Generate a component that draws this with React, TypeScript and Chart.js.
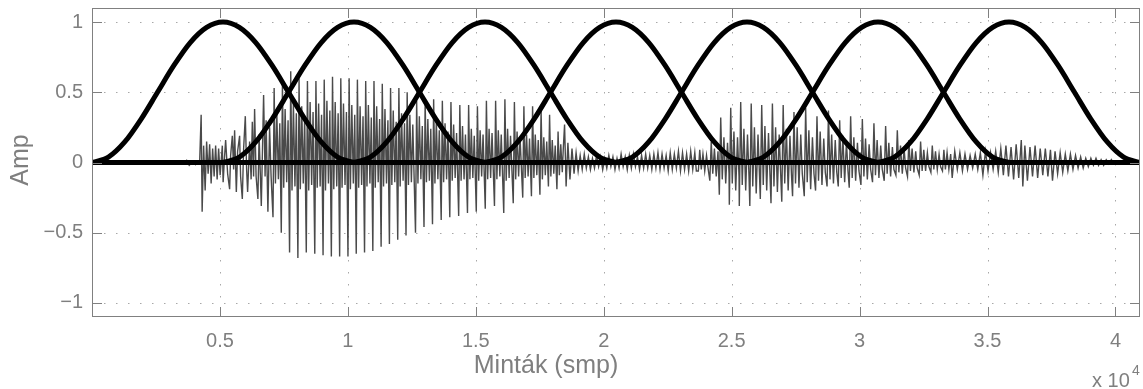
import React, { useEffect, useRef } from "react";
import { Chart, registerables } from "chart.js";

Chart.register(...registerables);

// ---- axes ----
const xMax = 40960;
const yMin = -1.1;
const yMax = 1.1;
const xTickValues = [5000, 10000, 15000, 20000, 25000, 30000, 35000, 40000];
const xTickLabels = ["0.5", "1", "1.5", "2", "2.5", "3", "3.5", "4"];
const yTickValues = [-1, -0.5, 0, 0.5, 1];
const yTickLabels = ["\u22121", "\u22120.5", "0", "0.5", "1"];
const xAxisTitle = "Mint\u00e1k (smp)";
const yAxisTitle = "Amp";
const xExponentBase = "x 10";
const xExponent = "4";

// ---- Hann windows ----
const windowCenters = [5120, 10240, 15360, 20480, 25600, 30720, 35840];
const windowHalfWidth = 5120;
const hannShape = [0, 0.038, 0.146, 0.309, 0.5, 0.691, 0.854, 0.962, 1, 0.962, 0.854, 0.691, 0.5, 0.309, 0.146, 0.038, 0];
const zeroLine: [number, number][] = [[0, 0], [40960, 0]];

// ---- speech signal (sample, amplitude) ----
const preOnset: [number, number][] = [
  [0, 0], [800, 0.003], [1600, -0.003], [2200, 0.004], [2700, -0.004], [3000, 0.01], [3200, -0.008],
  [3400, 0.012], [3500, -0.01], [3700, 0.015], [3800, -0.02], [3950, 0.01], [4050, -0.015], [4150, 0.01],
];

const onset: [number, number][] = [
  [4207, 0], [4266, 0.34], [4305, -0.35], [4363, 0.12], [4422, -0.2], [4480, 0.15], [4539, -0.08],
  [4598, 0.13], [4656, -0.15], [4715, 0.1], [4773, -0.1], [4832, 0.12], [4891, -0.12], [4949, 0.1],
  [5008, -0.09], [5094, 0.12], [5125, -0.14], [5184, 0.05], [5223, 0.16], [5301, -0.08], [5379, -0.19],
  [5418, 0.05], [5484, 0.19], [5535, -0.05], [5574, 0.23], [5641, -0.21], [5691, 0.08], [5769, 0.19],
  [5808, -0.1], [5875, -0.26], [5926, 0.1], [5992, 0.33], [6043, -0.05], [6082, -0.21], [6160, 0.15],
  [6219, -0.12], [6266, 0.29], [6316, -0.1], [6355, 0.38], [6414, -0.1], [6484, -0.26], [6531, 0.2],
  [6617, -0.31], [6707, 0.48], [6765, -0.1], [6805, 0.3], [6875, -0.35], [6941, 0.25], [7000, -0.1],
];

const voicedA: [number, number][] = [
  [7074, -0.39], [7119, 0.53], [7169, -0.15], [7224, 0.35], [7284, -0.12], [7339, 0.28],
  [7398, -0.5], [7443, 0.57], [7493, -0.18], [7548, 0.38], [7608, -0.14], [7663, 0.3],
  [7722, -0.64], [7767, 0.65], [7817, -0.2], [7872, 0.42], [7932, -0.17], [7987, 0.35],
  [8047, -0.68], [8092, 0.6], [8142, -0.19], [8197, 0.4], [8257, -0.15], [8312, 0.33],
  [8375, -0.64], [8420, 0.58], [8470, -0.2], [8525, 0.43], [8585, -0.16], [8640, 0.36],
  [8707, -0.65], [8752, 0.58], [8802, -0.18], [8857, 0.42], [8917, -0.17], [8972, 0.34],
  [9031, -0.66], [9076, 0.59], [9126, -0.2], [9181, 0.44], [9241, -0.15], [9296, 0.37],
  [9355, -0.67], [9400, 0.61], [9450, -0.19], [9505, 0.43], [9565, -0.17], [9620, 0.35],
  [9679, -0.67], [9724, 0.6], [9774, -0.18], [9829, 0.42], [9889, -0.16], [9944, 0.36],
  [10004, -0.67], [10049, 0.6], [10099, -0.19], [10154, 0.41], [10214, -0.15], [10269, 0.34],
  [10328, -0.65], [10373, 0.59], [10423, -0.18], [10478, 0.4], [10538, -0.16], [10593, 0.33],
  [10652, -0.64], [10697, 0.58], [10747, -0.17], [10802, 0.41], [10862, -0.15], [10917, 0.32],
  [10976, -0.63], [11021, 0.58], [11071, -0.18], [11126, 0.4], [11186, -0.14], [11241, 0.31],
  [11300, -0.6], [11345, 0.56], [11395, -0.17], [11450, 0.38], [11510, -0.15], [11565, 0.3],
  [11624, -0.58], [11669, 0.53], [11719, -0.16], [11774, 0.37], [11834, -0.14], [11889, 0.29],
  [11949, -0.55], [11994, 0.53], [12044, -0.17], [12099, 0.35], [12159, -0.13], [12214, 0.28],
  [12273, -0.52], [12318, 0.5], [12368, -0.16], [12423, 0.34], [12483, -0.14], [12538, 0.27],
  [12644, -0.5], [12689, 0.44], [12739, -0.15], [12794, 0.33], [12854, -0.12], [12909, 0.26],
  [12976, -0.46], [13021, 0.45], [13071, -0.14], [13126, 0.31], [13186, -0.13], [13241, 0.24],
  [13308, -0.44], [13353, 0.45], [13403, -0.15], [13458, 0.3], [13518, -0.12], [13573, 0.23],
  [13648, -0.41], [13693, 0.44], [13743, -0.14], [13798, 0.28], [13858, -0.12], [13913, 0.22],
  [13984, -0.39], [14029, 0.43], [14079, -0.13], [14134, 0.27], [14194, -0.11], [14249, 0.21],
  [14331, -0.38], [14376, 0.41], [14426, -0.13], [14481, 0.26], [14541, -0.12], [14596, 0.2],
  [14675, -0.36], [14720, 0.41], [14770, -0.12], [14825, 0.24], [14885, -0.11], [14940, 0.19],
  [15019, -0.35], [15064, 0.4], [15114, -0.13], [15169, 0.23], [15229, -0.1], [15284, 0.2],
  [15370, -0.33], [15415, 0.44], [15465, -0.12], [15520, 0.24], [15580, -0.11], [15635, 0.21],
  [15730, -0.31], [15775, 0.44], [15825, -0.12], [15880, 0.23], [15940, -0.1], [15995, 0.2],
  [16093, -0.36], [16138, 0.45], [16188, -0.13], [16243, 0.24], [16303, -0.11], [16358, 0.19],
  [16464, -0.29], [16509, 0.43], [16559, -0.12], [16614, 0.22], [16674, -0.1], [16729, 0.18],
  [16835, -0.25], [16880, 0.4], [16930, -0.11], [16985, 0.2], [17045, -0.1], [17100, 0.17],
  [17175, -0.24], [17220, 0.4], [17270, -0.11], [17325, 0.2], [17385, -0.09], [17440, 0.16],
  [17507, -0.23], [17552, 0.38], [17602, -0.12], [17657, 0.18], [17717, -0.09], [17772, 0.15],
  [17839, -0.17], [17884, 0.34], [17934, -0.1], [17989, 0.16], [18049, -0.08], [18104, 0.12],
  [18171, -0.19], [18216, 0.22], [18266, -0.09], [18321, 0.13], [18381, -0.07], [18420, 0.1],
  [18470, 0.27], [18530, -0.17],
];

const pause: [number, number][] = [
  [18600, 0.14], [18680, -0.12], [18760, 0.1], [18840, -0.08], [18920, 0.07], [19000, -0.06],
  [19080, 0.05], [19160, -0.05], [19240, 0.06], [19320, -0.04], [19400, 0.04], [19480, -0.05],
  [19560, 0.03], [19640, -0.04], [19720, 0.05], [19800, -0.03], [19880, 0.04], [19960, -0.05],
  [20040, 0.03], [20120, -0.04], [20200, 0.05], [20280, -0.03], [20360, 0.04], [20440, -0.05],
  [20520, 0.03], [20600, -0.04], [20680, 0.06], [20760, -0.03], [20840, 0.04], [20920, -0.05],
  [21000, 0.05], [21080, -0.04], [21160, 0.06], [21240, -0.03], [21320, 0.04], [21400, -0.05],
  [21480, 0.05], [21560, -0.04], [21640, 0.06], [21720, -0.04], [21800, 0.05], [21880, -0.05],
  [21960, 0.06], [22040, -0.04], [22120, 0.07], [22200, -0.05], [22280, 0.06], [22360, -0.04],
  [22440, 0.05], [22520, -0.06], [22600, 0.07], [22680, -0.05], [22760, 0.06], [22840, -0.04],
  [22920, 0.08], [23000, -0.06], [23080, 0.07], [23160, -0.05], [23240, 0.06], [23320, -0.06],
  [23400, 0.08], [23480, -0.05], [23560, 0.07], [23620, -0.06],
];

const voicedB: [number, number][] = [
  [23698, -0.06], [23753, 0.09], [23813, -0.05], [23878, 0.06], [23948, -0.06], [24018, 0.05], [24078, -0.04],
  [24147, -0.13], [24202, 0.15], [24262, -0.08], [24327, 0.1], [24397, -0.1], [24467, 0.08],
  [24518, -0.23], [24573, 0.32], [24633, -0.12], [24698, 0.18], [24768, -0.15], [24838, 0.14], [24898, -0.08],
  [24909, -0.3], [24964, 0.39], [25024, -0.15], [25089, 0.22], [25159, -0.2], [25229, 0.18], [25289, -0.1],
  [25299, -0.31], [25354, 0.43], [25414, -0.16], [25479, 0.24], [25549, -0.2], [25619, 0.2], [25679, -0.1],
  [25710, -0.31], [25765, 0.42], [25825, -0.17], [25890, 0.25], [25960, -0.22], [26030, 0.2], [26090, -0.1],
  [26120, -0.26], [26175, 0.41], [26235, -0.16], [26300, 0.26], [26370, -0.2], [26440, 0.21], [26500, -0.1],
  [26538, -0.29], [26593, 0.42], [26653, -0.17], [26718, 0.25], [26788, -0.21], [26858, 0.2], [26918, -0.09],
  [26959, -0.28], [27014, 0.41], [27074, -0.15], [27139, 0.24], [27209, -0.2], [27279, 0.19], [27339, -0.09],
  [27381, -0.24], [27436, 0.36], [27496, -0.15], [27561, 0.25], [27631, -0.18], [27701, 0.2], [27761, -0.08],
  [27838, -0.24], [27893, 0.39], [27953, -0.14], [28018, 0.23], [28088, -0.19], [28158, 0.18], [28218, -0.08],
  [28280, -0.2], [28335, 0.33], [28395, -0.13], [28460, 0.22], [28530, -0.16], [28600, 0.17], [28660, -0.07],
  [28729, -0.17], [28784, 0.37], [28844, -0.12], [28909, 0.2], [28979, -0.15], [29049, 0.16], [29109, -0.07],
  [29167, -0.17], [29222, 0.3], [29282, -0.11], [29347, 0.19], [29417, -0.14], [29487, 0.15], [29547, -0.06],
  [29596, -0.18], [29651, 0.33], [29711, -0.11], [29776, 0.18], [29846, -0.13], [29916, 0.14], [29976, -0.06],
  [30053, -0.16], [30108, 0.31], [30168, -0.1], [30233, 0.17], [30303, -0.12], [30373, 0.13], [30433, -0.05],
  [30506, -0.14], [30561, 0.28], [30621, -0.09], [30686, 0.16], [30756, -0.11], [30826, 0.12], [30886, -0.05],
  [30963, -0.13], [31018, 0.26], [31078, -0.08], [31143, 0.14], [31213, -0.1], [31283, 0.11], [31343, -0.05],
  [31420, -0.09], [31475, 0.23], [31535, -0.07], [31600, 0.12], [31670, -0.08], [31740, 0.1], [31800, -0.04],
  [31873, -0.1], [31928, 0.16], [31988, -0.06], [32053, 0.1], [32123, -0.07], [32193, 0.08], [32253, -0.04],
  [32330, -0.09], [32385, 0.15], [32445, -0.06], [32510, 0.09], [32580, -0.06], [32650, 0.07], [32710, -0.03],
  [32787, -0.07], [32842, 0.12], [32902, -0.05], [32967, 0.08], [33037, -0.05], [33107, 0.06], [33167, -0.03],
  [33240, -0.06], [33295, 0.09], [33355, -0.05], [33420, 0.07], [33490, -0.05], [33560, 0.06], [33620, -0.11],
];

const tail: [number, number][] = [
  [33720, 0.08], [33820, -0.05], [33920, 0.07], [34020, -0.06], [34120, 0.06], [34220, -0.05],
  [34320, 0.05], [34420, -0.04], [34520, 0.06], [34620, -0.05], [34720, 0.07], [34820, -0.09],
  [34920, 0.08], [35020, -0.06], [35120, 0.07], [35220, -0.05], [35320, 0.08], [35420, -0.07],
  [35520, 0.1], [35620, -0.09], [35720, 0.12], [35820, -0.1], [35920, 0.11], [36020, -0.12],
  [36120, 0.13], [36220, -0.11], [36320, 0.16], [36380, -0.17], [36460, 0.12], [36560, -0.13],
  [36660, 0.11], [36760, -0.1], [36860, 0.12], [36960, -0.11], [37060, 0.1], [37160, -0.09],
  [37260, 0.1], [37360, -0.1], [37460, 0.09], [37540, -0.13], [37640, 0.08], [37740, -0.08],
  [37840, 0.07], [37940, -0.07], [38040, 0.06], [38140, -0.06], [38240, 0.06], [38340, -0.05],
  [38440, 0.05], [38540, -0.04], [38640, 0.04], [38740, -0.04], [38840, 0.03], [38940, -0.03],
  [39040, 0.03], [39140, -0.02], [39240, 0.03], [39340, -0.02], [39440, 0.02], [39540, -0.02],
  [39640, 0.02], [39740, -0.01], [39840, 0.02], [39940, -0.01], [40040, 0.01], [40140, -0.01],
  [40240, 0.01], [40340, -0.01], [40440, 0.01], [40540, -0.005], [40700, 0.005], [40900, 0],
];

const FONT = "'Liberation Sans', Arial, Helvetica, sans-serif";
const TEXT_GRAY = "#7f7f7f";

const toPoints = (arr: [number, number][]) => arr.map(([x, y]) => ({ x, y }));

const decorPlugin = {
  id: "decor",
  beforeDatasetsDraw(chart: any) {
    const { ctx, chartArea, scales } = chart;
    const { left, right, top, bottom } = chartArea;
    ctx.save();
    ctx.strokeStyle = "#a8a8a8";
    ctx.lineWidth = 1;
    ctx.setLineDash([1.5, 10.5]);
    xTickValues.forEach((v) => {
      const px = Math.round(scales.x.getPixelForValue(v)) + 0.5;
      ctx.beginPath();
      ctx.moveTo(px, top);
      ctx.lineTo(px, bottom);
      ctx.stroke();
    });
    yTickValues.forEach((v) => {
      const py = Math.round(scales.y.getPixelForValue(v)) + 0.5;
      ctx.beginPath();
      ctx.moveTo(left, py);
      ctx.lineTo(right, py);
      ctx.stroke();
    });
    ctx.restore();
  },
  afterDatasetsDraw(chart: any) {
    const { ctx, chartArea, scales } = chart;
    const { left, right, top, bottom } = chartArea;
    ctx.save();
    ctx.setLineDash([]);
    ctx.strokeStyle = "#808080";
    ctx.lineWidth = 1;
    ctx.strokeRect(Math.round(left) + 0.5, Math.round(top) + 0.5, Math.round(right - left) - 1, Math.round(bottom - top) - 1);
    const tl = 10;
    xTickValues.forEach((v) => {
      const px = Math.round(scales.x.getPixelForValue(v)) + 0.5;
      ctx.beginPath();
      ctx.moveTo(px, bottom);
      ctx.lineTo(px, bottom - tl);
      ctx.moveTo(px, top);
      ctx.lineTo(px, top + tl);
      ctx.stroke();
    });
    yTickValues.forEach((v) => {
      const py = Math.round(scales.y.getPixelForValue(v)) + 0.5;
      ctx.beginPath();
      ctx.moveTo(left, py);
      ctx.lineTo(left + tl, py);
      ctx.moveTo(right, py);
      ctx.lineTo(right - tl, py);
      ctx.stroke();
    });
    // axis titles
    ctx.fillStyle = TEXT_GRAY;
    ctx.font = `25px ${FONT}`;
    ctx.textAlign = "center";
    ctx.textBaseline = "middle";
    ctx.fillText(xAxisTitle, 546, 366);
    ctx.save();
    ctx.translate(21, 160);
    ctx.rotate(-Math.PI / 2);
    ctx.fillText(yAxisTitle, 0, 0);
    ctx.restore();
    // exponent
    ctx.textAlign = "left";
    ctx.textBaseline = "alphabetic";
    ctx.font = `20px ${FONT}`;
    ctx.fillText(xExponentBase, 1092, 387);
    ctx.font = `14px ${FONT}`;
    ctx.fillText(xExponent, 1132, 375);
    ctx.restore();
  },
};

export default function App() {
  const canvasRef = useRef<HTMLCanvasElement | null>(null);

  useEffect(() => {
    if (!canvasRef.current) return;
    const windowDatasets = windowCenters.map((c) => ({
      data: hannShape.map((v, j) => ({ x: c - windowHalfWidth + (j * 2 * windowHalfWidth) / (hannShape.length - 1), y: v })),
      borderColor: "#000000",
      borderWidth: 5,
      borderCapStyle: "round",
      borderJoinStyle: "round",
      cubicInterpolationMode: "monotone",
      pointRadius: 0,
      fill: false,
      order: 0,
    }));
    const signal = [...preOnset, ...onset, ...voicedA, ...pause, ...voicedB, ...tail];
    const chart = new Chart(canvasRef.current, {
      type: "line",
      data: {
        datasets: [
          ...windowDatasets,
          {
            data: toPoints(zeroLine),
            borderColor: "#000000",
            borderWidth: 5,
            borderCapStyle: "round",
            pointRadius: 0,
            fill: false,
            order: 0,
          },
          {
            data: toPoints(signal),
            borderColor: "#4a4a4a",
            borderWidth: 1.4,
            pointRadius: 0,
            tension: 0,
            fill: false,
            order: 5,
          },
        ] as any,
      },
      options: {
        animation: false,
        responsive: false,
        maintainAspectRatio: false,
        events: [],
        layout: { padding: { top: 8, right: 3, left: 0, bottom: 0 } },
        plugins: { legend: { display: false }, tooltip: { enabled: false }, title: { display: false } },
        elements: { point: { radius: 0 } },
        scales: {
          x: {
            type: "linear",
            min: 0,
            max: xMax,
            grid: { display: false, drawTicks: false },
            border: { display: false },
            afterBuildTicks: (s: any) => {
              s.ticks = xTickValues.map((v) => ({ value: v }));
            },
            afterFit: (s: any) => {
              s.height = 72;
              s.paddingLeft = 0;
              s.paddingRight = 0;
              s.paddingTop = 0;
              s.paddingBottom = 0;
            },
            ticks: {
              autoSkip: false,
              maxRotation: 0,
              padding: 12,
              color: TEXT_GRAY,
              font: { family: FONT, size: 20 },
              callback: (_v: any, i: number) => xTickLabels[i],
            },
          },
          y: {
            type: "linear",
            min: yMin,
            max: yMax,
            grid: { display: false, drawTicks: false },
            border: { display: false },
            afterBuildTicks: (s: any) => {
              s.ticks = yTickValues.map((v) => ({ value: v }));
            },
            afterFit: (s: any) => {
              s.width = 92;
              s.paddingLeft = 0;
              s.paddingRight = 0;
              s.paddingTop = 0;
              s.paddingBottom = 0;
            },
            ticks: {
              autoSkip: false,
              padding: 9,
              color: TEXT_GRAY,
              font: { family: FONT, size: 20 },
              callback: (_v: any, i: number) => yTickLabels[i],
            },
          },
        },
      } as any,
      plugins: [decorPlugin as any],
    });
    return () => chart.destroy();
  }, []);

  return (
    <div style={{ position: "fixed", left: 0, top: 0, width: 1143, height: 389, background: "#ffffff" }}>
      <canvas ref={canvasRef} width={1143} height={389} style={{ width: 1143, height: 389, display: "block" }} />
    </div>
  );
}
